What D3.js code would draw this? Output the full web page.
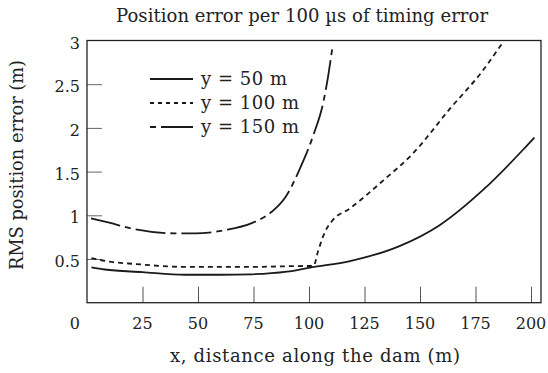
<!DOCTYPE html>
<html><head><meta charset="utf-8">
<script src="https://cdn.jsdelivr.net/npm/d3@7/dist/d3.min.js"></script>
<style>body{margin:0;background:#fff}svg{display:block}text{font-family:"DejaVu Serif",serif;fill:#222}</style>
</head><body><svg id="c" width="548" height="373"></svg>
<script>
const xTicks = [25, 50, 75, 100, 125, 150, 175, 200];
const yTicks = [0.5, 1, 1.5, 2, 2.5, 3];
const seriesNames = ["y = 50 m", "y = 100 m", "y = 150 m"];
const x50 = [2, 8, 25, 44, 60, 74, 90, 101, 118.5, 141, 159, 178.4, 196.4, 201.5];
const v50 = [0.405, 0.38, 0.35, 0.32, 0.32, 0.325, 0.355, 0.405, 0.477, 0.65, 0.89, 1.29, 1.75, 1.89];
const x100 = [2, 10, 21.6, 44, 74, 99.5, 102, 104.2, 107.2, 110.2, 118.5, 133.5, 146.9, 163.5, 177.8, 186.8];
const v100 = [0.51, 0.47, 0.443, 0.41, 0.41, 0.42, 0.42, 0.60, 0.81, 0.93, 1.08, 1.40, 1.71, 2.22, 2.64, 2.96];
const x150 = [1.8, 10, 21.6, 39.6, 48.6, 62.2, 74.2, 83.2, 89.2, 96, 102, 106.5, 108.7, 110.7];
const v150 = [0.965, 0.915, 0.84, 0.794, 0.794, 0.83, 0.91, 1.04, 1.2, 1.54, 1.92, 2.30, 2.605, 2.95];

const svg = d3.select("#c");
const L = 87, R = 541, T = 40.5, B = 302.7;
const x = d3.scaleLinear().domain([0, 204.5]).range([L, R]);
const y = d3.scaleLinear().domain([0, 3]).range([B, T]);

// ticks (inner)
const gx = svg.append("g").attr("transform", `translate(0,${B})`)
  .call(d3.axisBottom(x).tickValues(xTicks).tickSize(-16).tickFormat(""));
gx.select(".domain").remove();
gx.selectAll("line").attr("stroke", "#555");
const gy = svg.append("g").attr("transform", `translate(${L},0)`)
  .call(d3.axisLeft(y).tickValues(yTicks.slice(0, 5)).tickSize(-15).tickFormat(""));
gy.select(".domain").remove();
gy.selectAll("line").attr("stroke", "#666");

// tick labels
svg.selectAll(".xl").data(xTicks).join("text").attr("class", "xl")
  .attr("x", d => x(d)).attr("y", 329).attr("text-anchor", "middle")
  .attr("font-size", 16).text(d => d);
svg.selectAll(".yl").data(yTicks).join("text").attr("class", "yl")
  .attr("x", 80).attr("y", d => y(d) + 8).attr("text-anchor", "end")
  .attr("font-size", 16).text(d => d);
svg.append("text").attr("x", 80).attr("y", 329).attr("text-anchor", "end").attr("font-size", 16).text("0");

// frame
svg.append("rect").attr("x", L).attr("y", T).attr("width", R - L).attr("height", B - T)
  .attr("fill", "none").attr("stroke", "#222").attr("stroke-width", 1.3);

const line = d3.line().x(d => x(d[0])).y(d => y(d[1])).curve(d3.curveMonotoneX);
const series = [
  {xs: x50, vs: v50, dash: null},
  {xs: x100, vs: v100, dash: "5,4"},
  {xs: x150, vs: v150, dash: "30,5,6,5"}
];
series.forEach(s => {
  svg.append("path").datum(s.xs.map((d, i) => [d, s.vs[i]]))
    .attr("d", line).attr("fill", "none").attr("stroke", "#1a1a1a")
    .attr("stroke-width", 1.8).attr("stroke-dasharray", s.dash);
});

// legend
const legDash = [null, "4,4", "6,5,40"];
const legLen = [86, 98, 98];
seriesNames.forEach((n, i) => {
  const yy = 79 + i * 24;
  svg.append("line").attr("x1", 150).attr("x2", 193).attr("y1", yy).attr("y2", yy)
    .attr("stroke", "#1a1a1a").attr("stroke-width", 1.8).attr("stroke-dasharray", legDash[i]);
  svg.append("text").attr("x", 201).attr("y", yy + 6).attr("font-size", 18)
    .attr("textLength", legLen[i]).attr("lengthAdjust", "spacing").text(n);
});

// titles
svg.append("text").attr("x", 302).attr("y", 22).attr("text-anchor", "middle").attr("font-size", 18)
  .attr("textLength", 372).attr("lengthAdjust", "spacing")
  .text("Position error per 100 µs of timing error");
svg.append("text").attr("x", 315).attr("y", 362).attr("text-anchor", "middle").attr("font-size", 18)
  .attr("textLength", 290).attr("lengthAdjust", "spacing")
  .text("x, distance along the dam (m)");
svg.append("text").attr("transform", "translate(23,165) rotate(-90)").attr("text-anchor", "middle")
  .attr("font-size", 18).attr("textLength", 210).attr("lengthAdjust", "spacingAndGlyphs")
  .text("RMS position error (m)");
</script></body></html>
